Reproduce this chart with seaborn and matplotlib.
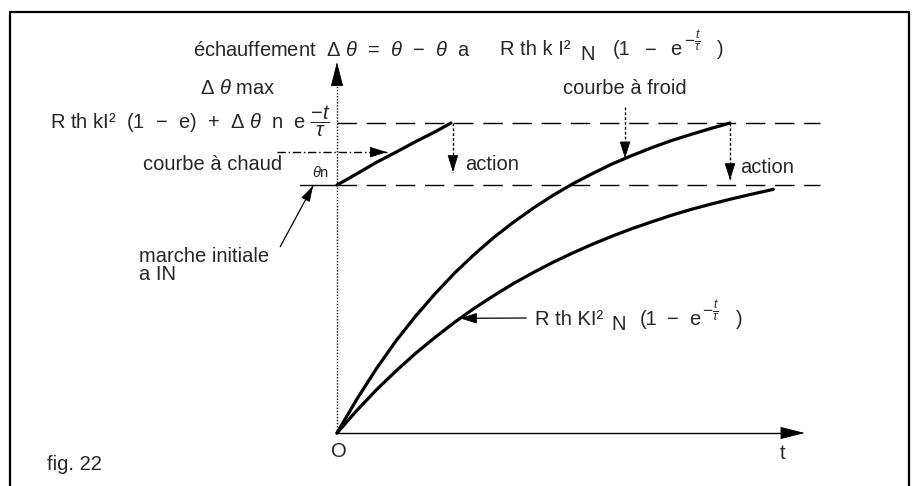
import numpy as np
import pandas as pd
import matplotlib
matplotlib.use("Agg")
import matplotlib.pyplot as plt
import seaborn as sns

# Thermal image of a motor: temperature rise (% of the maximum rise) versus time
theta_max = 100          # Δθ max
theta_n = 80             # θn, rise reached at rated current

# cold start curve "courbe à froid"
t_cold = [0, 0.5, 1, 1.5, 2, 2.5, 3, 3.5, 4, 4.5, 5, 5.5, 6, 6.5, 7, 7.5, 8, 8.5, 9, 9.5, 10]
rise_cold = [0, 10.8, 20.7, 29.7, 37.7, 45.0, 51.7, 57.7, 63.2, 68.1, 72.6, 76.7, 80.4,
             83.7, 86.8, 89.5, 92.0, 94.3, 96.3, 98.2, 100]

# running at rated current IN from cold
t_rated = [0, 0.5, 1, 1.5, 2, 2.5, 3, 3.5, 4, 4.5, 5, 5.5, 6, 6.5, 7, 7.5, 8, 8.5, 9, 9.5,
           10, 10.5, 11.1]
rise_rated = [0, 7.2, 13.9, 20.0, 25.7, 30.9, 35.8, 40.3, 44.4, 48.3, 51.8, 55.1, 58.1,
              60.9, 63.5, 65.9, 68.1, 70.2, 72.1, 73.8, 75.4, 76.9, 78.6]

# hot start curve "courbe à chaud"
t_hot = [0, 0.5, 1, 1.5, 2, 2.5, 2.9]
rise_hot = [80, 83.6, 87.3, 90.6, 94.0, 97.2, 100]

t_end = 12.3             # extent of the reference levels
t_axis_end = 11.9
y_axis_end = 119.7

sns.set_theme(style="white")
plt.rcParams["font.family"] = ["Liberation Sans", "DejaVu Sans"]
plt.rcParams["mathtext.fontset"] = "custom"
plt.rcParams["mathtext.rm"] = "Liberation Sans"
plt.rcParams["mathtext.it"] = "Liberation Sans:italic"
plt.rcParams["mathtext.bf"] = "Liberation Sans:bold"

fig = plt.figure(figsize=(9.2, 4.86), dpi=100)
ax = fig.add_axes([0, 0, 1, 1])
ax.set_xlim(-8.575, 14.835)
ax.set_ylim(-17.1, 139.7)
ax.set_axis_off()

K = "black"
FS = 14.5
renderer = fig.canvas.get_renderer()


def head(x0, y0, x1, y1, hl=15, hw=0.17):
    """Filled arrowhead at (x1, y1) pointing away from (x0, y0)."""
    p0 = ax.transData.transform((x0, y0))
    p1 = ax.transData.transform((x1, y1))
    d = (p1 - p0) / np.hypot(*(p1 - p0))
    base = ax.transData.inverted().transform(p1 - d * hl)
    ax.annotate("", xy=(x1, y1), xytext=tuple(base),
                arrowprops=dict(arrowstyle=f"-|>,head_length={hl/20*0.72:.2f},head_width={hw}",
                                mutation_scale=20, color=K, lw=0.6,
                                shrinkA=0, shrinkB=0))


def arrow(x0, y0, x1, y1, ls="-", lw=1.0, hl=15, hw=0.17):
    ax.plot([x0, x1], [y0, y1], color=K, lw=lw, ls=ls, solid_capstyle="butt")
    head(x0, y0, x1, y1, hl, hw)


def formula(x, y, pieces):
    """Write text pieces left to right from (x, y) on a common baseline.
    Each piece is (text, gap_px, shift_px, fontsize)."""
    px, py = ax.transData.transform((x, y))
    for s, gap, dy, fs in pieces:
        px += gap
        t = fig.text(px / fig.dpi / fig.get_figwidth(), (py + dy) / fig.dpi / fig.get_figheight(),
                     s, fontsize=fs, va="baseline", ha="left")
        px = t.get_window_extent(renderer).x1


# frame
ax.plot([-8.32, -8.32, 14.55, 14.55], [-17.1, 135.8, 135.8, -17.1], color=K, lw=1.6,
        clip_on=False)

# axes of the diagram
ax.plot([0, 0], [0, y_axis_end - 3], color=K, lw=1.0, ls=(0, (1, 1.2)))
head(0, 0, 0, y_axis_end, hl=22, hw=0.2)
ax.plot([0, t_axis_end - 0.3], [0, 0], color=K, lw=1.0)
head(0, 0, t_axis_end, 0, hl=22, hw=0.2)

# reference levels
ax.plot([0, t_end], [theta_max, theta_max], color=K, lw=1.0, dashes=(14, 7))
ax.plot([-0.94, 0], [theta_n, theta_n], color=K, lw=1.0)
ax.plot([0, t_end], [theta_n, theta_n], color=K, lw=1.0, dashes=(14, 7))

# curves
sns.lineplot(x=t_cold, y=rise_cold, ax=ax, color=K, lw=2.3, estimator=None, sort=False)
sns.lineplot(x=t_rated, y=rise_rated, ax=ax, color=K, lw=2.3, estimator=None, sort=False)
sns.lineplot(x=t_hot, y=rise_hot, ax=ax, color=K, lw=2.3, estimator=None, sort=False)

# trip actions
arrow(t_hot[-1] + 0.05, theta_max, t_hot[-1] + 0.05, 84.2, ls=(0, (2, 1.5)))
arrow(t_cold[-1], theta_max, t_cold[-1], 81.6, ls=(0, (2, 1.5)))

# annotations
arrow(7.33, 105.2, 7.33, 88.6, ls=(0, (2, 1.5)))
arrow(-1.53, 90.6, 1.27, 90.6, ls=(0, (6, 2, 1, 2)))
arrow(4.83, 37.1, 3.13, 37.0, lw=0.9)
arrow(-1.45, 60.0, -0.61, 79.7, lw=0.9, hl=14, hw=0.15)

EXP = r"$-\frac{t}{\tau}$"

ax.text(-3.66, 123.5, r"échauffement  Δ $\theta$  =  $\theta$  −  $\theta$  a", fontsize=FS,
        va="center", ha="left")
formula(4.15, 121.8, [("R th k I²", 0, 0, FS), ("N", 10, -5, FS), ("(1", 18, 0, FS),
                      ("−", 14, 0, FS), ("e", 14, 0, FS), (EXP, 2, 8, 12.5),
                      (")", 16, 0, FS)])
ax.text(-3.49, 111.3, r"Δ $\theta$ max", fontsize=FS, va="center", ha="left")
ax.text(7.33, 111.3, "courbe à froid", fontsize=FS, va="center", ha="center")
ax.text(-0.18, 100.5, r"R th kI²  (1  −  e)  +  Δ $\theta$  n  e $\dfrac{-t}{\tau}$",
        fontsize=FS, va="center", ha="right")
ax.text(-4.94, 86.5, "courbe à chaud", fontsize=FS, va="center", ha="left")
ax.text(-0.43, 84.0, r"$\theta$n", fontsize=10.5, va="center", ha="center")
ax.text(3.26, 86.5, "action", fontsize=FS, va="center", ha="left")
ax.text(10.25, 85.5, "action", fontsize=FS, va="center", ha="left")
ax.text(-5.04, 57.1, "marche initiale", fontsize=FS, va="center", ha="left")
ax.text(-5.04, 51.0, "a IN", fontsize=FS, va="center", ha="left")
formula(5.04, 34.8, [("R th KI²", 0, 0, FS), ("N", 8, -5, FS), ("(1", 14, 0, FS),
                     ("−", 10, 0, FS), ("e", 10, 0, FS), (EXP, 2, 8, 12.5),
                     (")", 16, 0, FS)])
ax.text(0.05, -6.1, "O", fontsize=FS, va="center", ha="center")
ax.text(11.35, -6.5, "t", fontsize=FS, va="center", ha="center")
ax.text(-7.38, -10.3, "fig. 22", fontsize=FS, va="center", ha="left")

fig.savefig("out.png", dpi=100, facecolor="white")
